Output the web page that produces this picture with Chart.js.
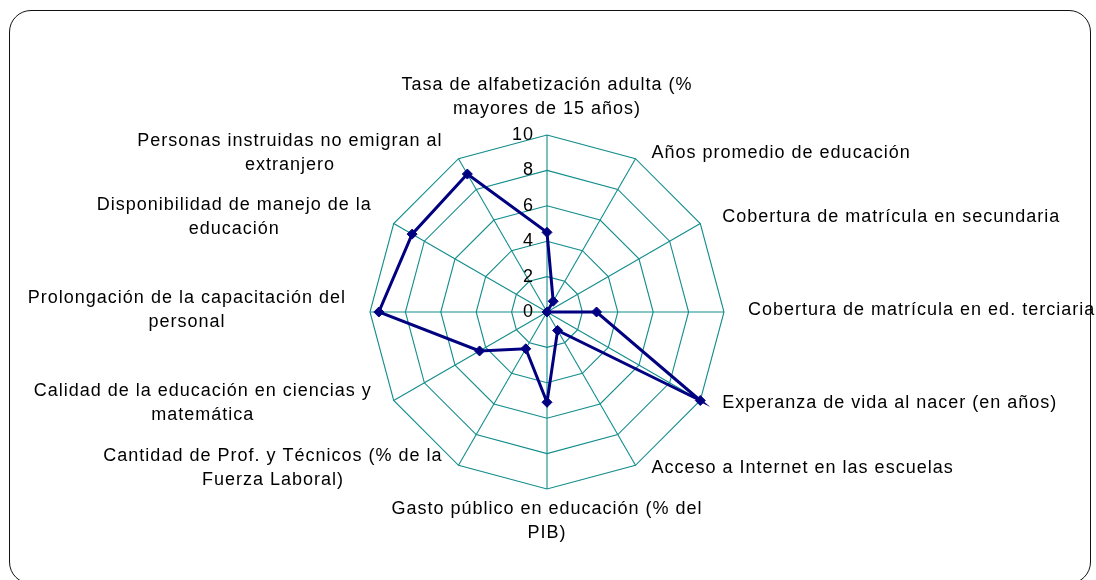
<!DOCTYPE html>
<html>
<head>
<meta charset="utf-8">
<script src="https://cdn.jsdelivr.net/npm/chart.js@4/dist/chart.umd.min.js"></script>
<style>
  html, body { margin: 0; padding: 0; background: #fff; }
  #frame {
    position: absolute; left: 9px; top: 10px; width: 1082px; height: 574px;
    border: 1.5px solid #111; border-radius: 22px; box-sizing: border-box;
  }
  #radar { position: absolute; left: 0; top: 0; }
</style>
</head>
<body>
<div id="frame"></div>
<canvas id="radar" width="1096" height="580"></canvas>
<script>
const axisLabels = [
  ["Tasa de alfabetización adulta (%", "mayores de 15 años)"],
  ["Años promedio de educación"],
  ["Cobertura de matrícula en secundaria"],
  ["Cobertura de matrícula en ed. terciaria"],
  ["Experanza de vida al nacer (en años)"],
  ["Acceso a Internet en las escuelas"],
  ["Gasto público en educación (% del", "PIB)"],
  ["Cantidad de Prof. y Técnicos (% de la", "Fuerza Laboral)"],
  ["Calidad de la educación en ciencias y", "matemática"],
  ["Prolongación de la capacitación del", "personal"],
  ["Disponibilidad de manejo de la", "educación"],
  ["Personas instruidas no emigran al", "extranjero"]
];
const scores = [4.5, 0.7, 0, 2.8, 10, 1.2, 5.1, 2.4, 4.4, 9.5, 8.8, 9.0];
const scaleMin = 0;
const scaleMax = 10;
const scaleStep = 2;

const textFont = '18px "Liberation Sans", Arial, sans-serif';

// tick numbers and axis titles are placed by hand, Excel style
const axisText = {
  id: 'axisText',
  afterDraw(chart) {
    const r = chart.scales.r;
    const ctx = chart.ctx;
    ctx.save();
    ctx.font = textFont;
    ctx.fillStyle = '#000';
    if ('letterSpacing' in ctx) ctx.letterSpacing = '1px';

    ctx.textAlign = 'right';
    ctx.textBaseline = 'middle';
    r.ticks.forEach(t => {
      const d = r.getDistanceFromCenterForValue(t.value);
      ctx.fillText(t.label, r.xCenter - 13, r.yCenter - d);
    });

    const R = r.drawingArea;
    const lh = 24;
    ctx.textAlign = 'center';
    axisLabels.forEach((lines, i) => {
      const p = r.getPointPosition(i, R);
      const a = i * 2 * Math.PI / axisLabels.length;
      const s = Math.sin(a), c = Math.cos(a);
      const h = lines.length * lh;
      let cx, cy;
      if (Math.abs(s) < 0.01) {
        cx = p.x;
        cy = c > 0 ? p.y - 14 - h / 2 : p.y + 8 + h / 2;
      } else {
        const w = Math.max(...lines.map(l => ctx.measureText(l).width));
        const off = 8 + 16 * Math.abs(s);
        cx = s > 0 ? p.x + off + w / 2 : p.x - off - w / 2;
        cy = p.y + (c > 0.1 ? -6 : c < -0.1 ? 3 : -1.5);
      }
      lines.forEach((l, k) => ctx.fillText(l, cx, cy - h / 2 + lh * (k + 0.5)));
    });
    ctx.restore();
  }
};

new Chart(document.getElementById('radar').getContext('2d'), {
  type: 'radar',
  data: {
    labels: axisLabels,
    datasets: [{
      data: scores,
      borderColor: '#000080',
      backgroundColor: '#000080',
      borderWidth: 3,
      fill: false,
      pointStyle: 'rectRot',
      pointRadius: 5,
      pointBackgroundColor: '#000080',
      pointBorderColor: '#000080',
      pointBorderWidth: 1
    }]
  },
  options: {
    responsive: false,
    animation: false,
    devicePixelRatio: 1,
    layout: { padding: { left: 370, right: 372, top: 135, bottom: 91 } },
    plugins: { legend: { display: false }, tooltip: { enabled: false } },
    scales: {
      r: {
        min: scaleMin,
        max: scaleMax,
        ticks: { stepSize: scaleStep, display: false },
        pointLabels: { display: false },
        grid: { color: '#128c8c', lineWidth: 1.1 },
        angleLines: { color: '#128c8c', lineWidth: 1.1 }
      }
    }
  },
  plugins: [axisText]
});
</script>
</body>
</html>
